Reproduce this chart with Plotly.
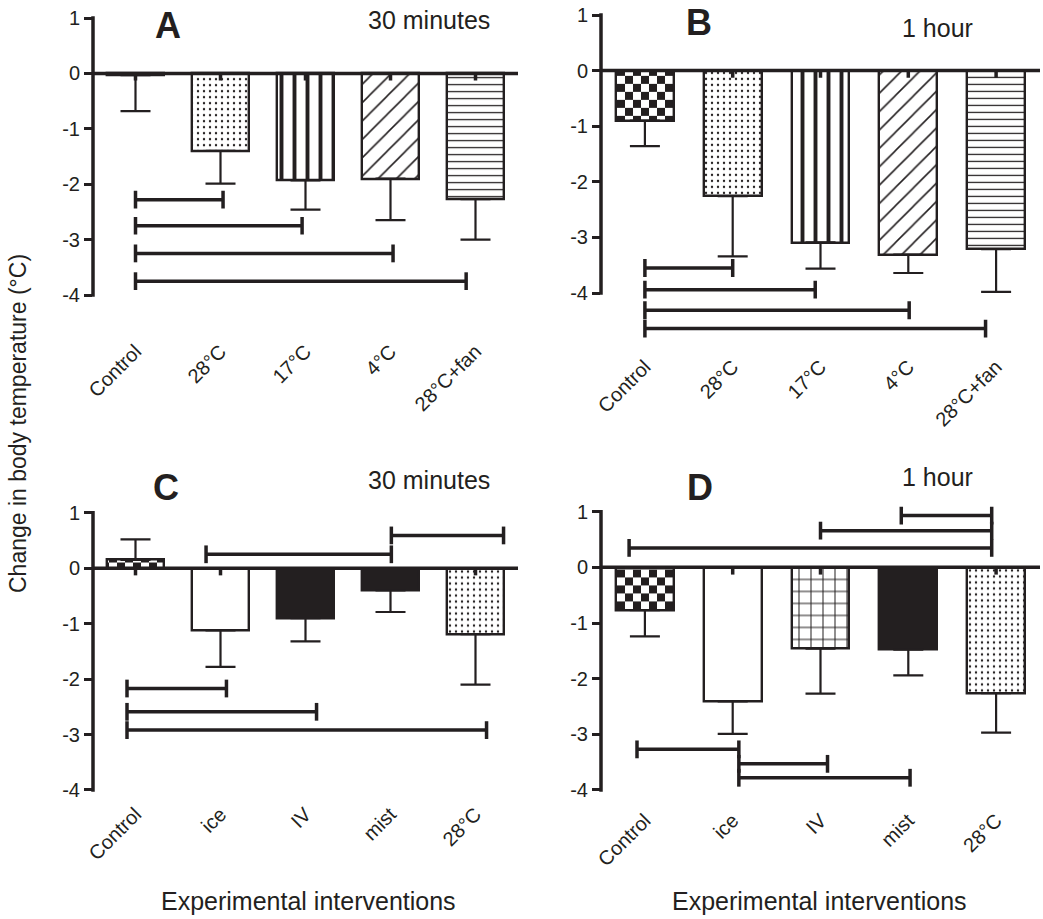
import plotly.graph_objects as go

W, H = 1043, 919

# ---------------- data ----------------
cats_AB = ["Control", "28°C", "17°C", "4°C", "28°C+fan"]
cats_CD = ["Control", "ice", "IV", "mist", "28°C"]

A_mean = [-0.03, -1.40, -1.93, -1.90, -2.27]
A_err = [0.65, 0.59, 0.53, 0.75, 0.73]

B_mean = [-0.90, -2.26, -3.09, -3.31, -3.21]
B_err = [0.46, 1.08, 0.47, 0.33, 0.77]

C_mean = [0.15, -1.12, -0.90, -0.40, -1.19]
C_err = [0.37, 0.66, 0.42, 0.39, 0.91]

D_mean = [-0.77, -2.41, -1.46, -1.48, -2.26]
D_err = [0.47, 0.58, 0.81, 0.46, 0.71]

# significance brackets: (from category position, to category position, level)
A_brackets = [(0, 1.03, -2.28), (0, 1.96, -2.75), (0, 3.03, -3.25), (0, 3.89, -3.75)]
B_brackets = [(0, 1.0, -3.55), (0, 1.94, -3.94), (0, 3.01, -4.31), (0, 3.88, -4.64)]
C_brackets = [(-0.1, 1.07, -2.17), (-0.1, 2.13, -2.59), (-0.1, 4.13, -2.92),
              (0.83, 3.01, 0.25), (3.01, 4.33, 0.59)]
D_brackets = [(2.92, 3.95, 0.93), (2.0, 3.95, 0.66), (-0.18, 3.95, 0.35),
              (-0.09, 1.07, -3.27), (1.07, 2.08, -3.53), (1.07, 3.02, -3.78)]

y_ticks = [-4, -3, -2, -1, 0, 1]

# ---------------- styles ----------------
INK = "#231f20"
FONT = "Liberation Sans"

CHECK = dict(path="M0,0H8V8H0Z M8,8H16V16H8Z", size=16, fgcolor=INK, bgcolor="white",
             fillmode="overlay", fgopacity=1)
DOTS = dict(shape=".", size=6, solidity=0.12, fgcolor=INK, bgcolor="white", fillmode="overlay", fgopacity=1)
VERT = dict(shape="|", size=13, solidity=0.3, fgcolor=INK, bgcolor="white", fillmode="overlay", fgopacity=1)
DIAG = dict(shape="/", size=13, solidity=0.12, fgcolor=INK, bgcolor="white", fillmode="overlay", fgopacity=1)
HORZ = dict(shape="-", size=7, solidity=0.18, fgcolor=INK, bgcolor="white", fillmode="overlay", fgopacity=1)
GRID = dict(shape="+", size=12, solidity=0.16, fgcolor=INK, bgcolor="white", fillmode="overlay", fgopacity=1)
NONE = dict(shape="")

panels = [
    dict(cats=cats_AB, mean=A_mean, err=A_err, br=A_brackets,
         fills=["white"] * 5, pats=[NONE, DOTS, VERT, DIAG, HORZ], stub=[1, 1, 1, 1, 1],
         left=93, right=518, p1=18, p4=295, lo=-4.72, hi=1.25,
         letter="A", letter_xy=(168, 25), note="30 minutes", note_xy=(429, 20)),
    dict(cats=cats_AB, mean=B_mean, err=B_err, br=B_brackets,
         fills=["white"] * 5, pats=[CHECK, DOTS, VERT, DIAG, HORZ], stub=[0, 1, 1, 1, 1],
         left=601, right=1040, p1=15, p4=293, lo=-5.03, hi=1.2,
         letter="B", letter_xy=(699, 23), note="1 hour", note_xy=(937, 28)),
    dict(cats=cats_CD, mean=C_mean, err=C_err, br=C_brackets,
         fills=["white", "white", INK, INK, "white"], pats=[CHECK, NONE, NONE, NONE, DOTS],
         stub=[1, 1, 0, 0, 1],
         left=93, right=518, p1=512.7, p4=790, lo=-4.14, hi=1.4,
         letter="C", letter_xy=(166, 487), note="30 minutes", note_xy=(429, 480)),
    dict(cats=cats_CD, mean=D_mean, err=D_err, br=D_brackets,
         fills=["white", "white", "white", INK, "white"], pats=[CHECK, NONE, GRID, NONE, DOTS],
         stub=[0, 1, 1, 0, 1],
         left=601, right=1040, p1=511.7, p4=790, lo=-4.25, hi=1.4,
         letter="D", letter_xy=(700, 487), note="1 hour", note_xy=(937, 477)),
]

fig = go.Figure()
shapes = []
annotations = []


def px_x(x):
    return min(1.0, max(0.0, x / W))


def px_y(y):
    return min(1.0, max(0.0, 1 - y / H))


CAP = 0.16

for i, p in enumerate(panels):
    n = i + 1
    xa = "x" if n == 1 else f"x{n}"
    ya = "y" if n == 1 else f"y{n}"
    xkey = "xaxis" if n == 1 else f"xaxis{n}"
    ykey = "yaxis" if n == 1 else f"yaxis{n}"
    k = (p["p4"] - p["p1"]) / 5.0
    top_px = p["p1"] - (p["hi"] - 1) * k
    bot_px = p["p4"] + (-4 - p["lo"]) * k
    xs = list(range(len(p["cats"])))

    for j in xs:
        m, e = p["mean"][j], p["err"][j]
        up = e if m > 0 else 0
        down = e if m <= 0 else 0
        fig.add_trace(go.Bar(
            x=[j], y=[m], width=0.66, xaxis=xa, yaxis=ya,
            marker=dict(color=p["fills"][j], pattern=p["pats"][j],
                        line=dict(color=INK, width=2.4)),
            error_y=dict(type="data", symmetric=False, array=[up], arrayminus=[down],
                         color=INK, thickness=2.2, width=15),
            showlegend=False, hoverinfo="skip"))

    # short stubs at the zero line
    fig.add_trace(go.Scatter(
        x=xs, y=[0] * len(xs), mode="markers", xaxis=xa, yaxis=ya,
        marker=dict(size=1, opacity=0),
        error_y=dict(type="data", symmetric=False, array=[0] * len(xs),
                     arrayminus=[0.13 * s for s in p["stub"]], color=INK, thickness=3.5, width=0),
        showlegend=False, hoverinfo="skip"))

    # significance brackets
    bx, by = [], []
    for x0, x1, yv in p["br"]:
        bx += [x0, x0, None, x0, x1, None, x1, x1, None]
        by += [yv - CAP, yv + CAP, None, yv, yv, None, yv - CAP, yv + CAP, None]
    fig.add_trace(go.Scatter(x=bx, y=by, mode="lines", xaxis=xa, yaxis=ya,
                             line=dict(color=INK, width=3.5), showlegend=False,
                             hoverinfo="skip", cliponaxis=False))

    fig.layout[xkey] = dict(
        domain=[px_x(p["left"]), px_x(p["right"])], range=[-0.5, 4.5], anchor=ya,
        tickmode="array", tickvals=xs, ticktext=p["cats"], tickangle=-45,
        showline=False, showgrid=False, zeroline=False, ticks="", automargin=False,
        tickfont=dict(family=FONT, size=20, color=INK), fixedrange=True)
    fig.layout[ykey] = dict(
        domain=[px_y(bot_px), px_y(top_px)], range=[p["lo"], p["hi"]], anchor=xa,
        tickmode="array", tickvals=y_ticks, ticktext=[str(t) for t in y_ticks],
        ticks="outside", ticklen=8, tickwidth=3, tickcolor=INK, automargin=False,
        showline=False, showgrid=False, zeroline=False,
        tickfont=dict(family=FONT, size=20, color=INK), fixedrange=True)

    # y axis line from -4 to 1, x axis line at zero
    shapes.append(dict(type="line", xref=f"{xa} domain", yref=ya, x0=0, x1=0,
                       y0=-4 - 0.03, y1=1 + 0.03, line=dict(color=INK, width=3.5)))
    shapes.append(dict(type="line", xref=f"{xa} domain", yref=ya, x0=0, x1=1,
                       y0=0, y1=0, line=dict(color=INK, width=3.5)))

    annotations.append(dict(text=f"<b>{p['letter']}</b>", x=px_x(p["letter_xy"][0]),
                            y=px_y(p["letter_xy"][1]), xref="paper", yref="paper",
                            showarrow=False, xanchor="center", yanchor="middle",
                            font=dict(family=FONT, size=36, color=INK)))
    annotations.append(dict(text=p["note"], x=px_x(p["note_xy"][0]),
                            y=px_y(p["note_xy"][1]), xref="paper", yref="paper",
                            showarrow=False, xanchor="center", yanchor="middle",
                            font=dict(family=FONT, size=25, color=INK)))

annotations.append(dict(text="Change in body temperature (°C)", x=px_x(18), y=px_y(424),
                        xref="paper", yref="paper", showarrow=False, textangle=-90,
                        xanchor="center", yanchor="middle",
                        font=dict(family=FONT, size=23, color=INK)))
for cx in (308, 819):
    annotations.append(dict(text="Experimental interventions", x=px_x(cx), y=px_y(901),
                            xref="paper", yref="paper", showarrow=False,
                            xanchor="center", yanchor="middle",
                            font=dict(family=FONT, size=25, color=INK)))

fig.update_layout(width=W, height=H, margin=dict(l=0, r=0, t=0, b=0, autoexpand=False),
                  paper_bgcolor="white", plot_bgcolor="white",
                  font=dict(family=FONT, color=INK),
                  shapes=shapes, annotations=annotations, bargap=0, barmode="overlay")

fig.write_html("out.html")
